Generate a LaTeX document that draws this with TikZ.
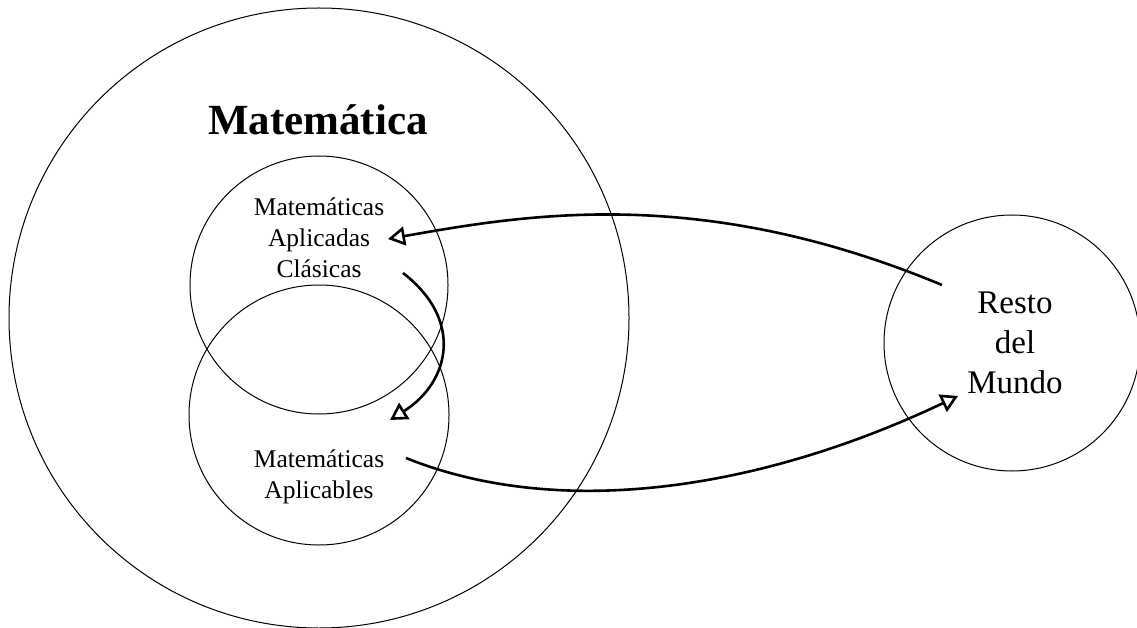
\documentclass[tikz,border=0pt]{standalone}
\usepackage{fontspec}
\setmainfont{Liberation Serif}
\usetikzlibrary{arrows.meta,calc}
\tikzset{
  circ/.style={draw, line width=1pt},
  lbl/.style={anchor=base, inner sep=0pt, align=center},
  conn/.style={line width=2.6pt, -{Triangle[open, length=17pt, width=19pt, line width=2.6pt]}},
}
\newcommand{\lines}[1]{\begin{tabular}[t]{@{}c@{}}#1\end{tabular}}
\begin{document}
\begin{tikzpicture}[x=1pt, y=-1pt]
\useasboundingbox (0,0) rectangle (1137,628);
\fill[white] (0,0) rectangle (1137,628);
% circles
\draw[circ] (319,318) circle[radius=310];
\draw[circ] (319,285) circle[radius=129];
\draw[circ] (319,415) circle[radius=130];
\draw[circ] (1012,343) circle[radius=128];
% texts
\node[lbl, font=\fontsize{43}{48}\selectfont\bfseries] (mat) at (318,135) {Matemática};
\node[lbl, font=\fontsize{25.5}{31}\selectfont] (mac) at (319,216) {\lines{Matemáticas\\Aplicadas\\Clásicas}};
\node[lbl, font=\fontsize{25.5}{31}\selectfont] (mab) at (319,467) {\lines{Matemáticas\\Aplicables}};
\node[lbl, font=\fontsize{33}{40}\selectfont] (rm) at (1015,313) {\lines{Resto\\del\\Mundo}};
% connector endpoints
\coordinate (a1s) at ($(rm.base)+(-73,-28)$);
\coordinate (a1e) at ($(mac.base)+(69,23)$);
\coordinate (a2s) at ($(mab.base)+(87,-9)$);
\coordinate (a2e) at ($(rm.base)+(-57,83)$);
\coordinate (a3s) at ($(mac.base)+(84,57)$);
\coordinate (a3e) at ($(mab.base)+(71,-47)$);
\draw[conn] (a1s) .. controls (702,185) and (529,214) .. (a1e);
\draw[conn] (a2s) .. controls (560,520) and (760,490) .. (a2e);
\draw[conn] (a3s) .. controls (464,320) and (450,382) .. (a3e);
\end{tikzpicture}
\end{document}
